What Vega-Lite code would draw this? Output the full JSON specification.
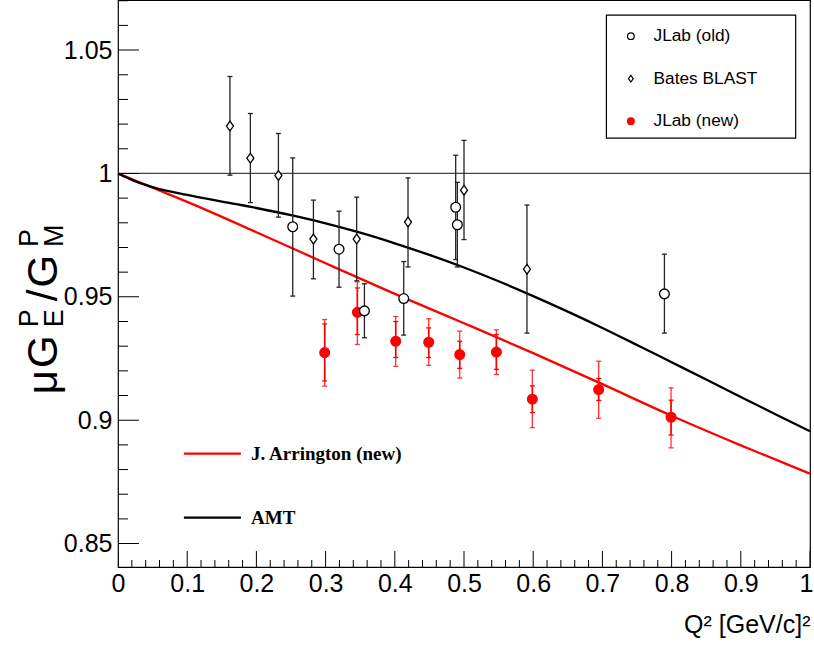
{
  "$schema": "https://vega.github.io/schema/vega-lite/v6.json",
  "width": 692,
  "height": 567,
  "autosize": "none",
  "padding": {"left": 118, "top": 0, "right": 4, "bottom": 78},
  "background": "white",
  "config": {"view": {"stroke": "black", "strokeWidth": 1.2}, "font": "Liberation Sans"},
  "datasets": {
    "curves": [
      {"model": "J. Arrington (new)", "q2": 0, "r": 1},
      {"model": "J. Arrington (new)", "q2": 0.05, "r": 0.9942},
      {"model": "J. Arrington (new)", "q2": 0.1, "r": 0.9885},
      {"model": "J. Arrington (new)", "q2": 0.2, "r": 0.9762},
      {"model": "J. Arrington (new)", "q2": 0.3, "r": 0.9636},
      {"model": "J. Arrington (new)", "q2": 0.4, "r": 0.9512},
      {"model": "J. Arrington (new)", "q2": 0.5, "r": 0.9393},
      {"model": "J. Arrington (new)", "q2": 0.6, "r": 0.9272},
      {"model": "J. Arrington (new)", "q2": 0.7, "r": 0.9146},
      {"model": "J. Arrington (new)", "q2": 0.8, "r": 0.9018},
      {"model": "J. Arrington (new)", "q2": 0.9, "r": 0.8898},
      {"model": "J. Arrington (new)", "q2": 1.0, "r": 0.8783},
      {"model": "AMT", "q2": 0, "r": 1},
      {"model": "AMT", "q2": 0.02, "r": 0.9974},
      {"model": "AMT", "q2": 0.05, "r": 0.9945},
      {"model": "AMT", "q2": 0.1, "r": 0.9913},
      {"model": "AMT", "q2": 0.15, "r": 0.9886},
      {"model": "AMT", "q2": 0.2, "r": 0.986},
      {"model": "AMT", "q2": 0.25, "r": 0.9831},
      {"model": "AMT", "q2": 0.3, "r": 0.9798},
      {"model": "AMT", "q2": 0.35, "r": 0.976},
      {"model": "AMT", "q2": 0.4, "r": 0.9717},
      {"model": "AMT", "q2": 0.45, "r": 0.967},
      {"model": "AMT", "q2": 0.5, "r": 0.9619},
      {"model": "AMT", "q2": 0.55, "r": 0.9563},
      {"model": "AMT", "q2": 0.6, "r": 0.9503},
      {"model": "AMT", "q2": 0.65, "r": 0.944},
      {"model": "AMT", "q2": 0.7, "r": 0.9374},
      {"model": "AMT", "q2": 0.75, "r": 0.9305},
      {"model": "AMT", "q2": 0.8, "r": 0.9235},
      {"model": "AMT", "q2": 0.85, "r": 0.9165},
      {"model": "AMT", "q2": 0.9, "r": 0.9094},
      {"model": "AMT", "q2": 0.95, "r": 0.9024},
      {"model": "AMT", "q2": 1.0, "r": 0.8955}
    ],
    "pts": [
      {"series": "JLab (new)", "q2": 0.2987, "r": 0.9274, "lo": 0.9138, "hi": 0.9408, "slo": 0.9159, "shi": 0.939},
      {"series": "JLab (new)", "q2": 0.3459, "r": 0.9437, "lo": 0.9307, "hi": 0.9561, "slo": 0.9347, "shi": 0.9536},
      {"series": "JLab (new)", "q2": 0.4013, "r": 0.932, "lo": 0.9218, "hi": 0.942, "slo": 0.9254, "shi": 0.94},
      {"series": "JLab (new)", "q2": 0.449, "r": 0.9316, "lo": 0.9222, "hi": 0.9411, "slo": 0.9254, "shi": 0.9374},
      {"series": "JLab (new)", "q2": 0.4938, "r": 0.9266, "lo": 0.9171, "hi": 0.9361, "slo": 0.921, "shi": 0.932},
      {"series": "JLab (new)", "q2": 0.5468, "r": 0.9276, "lo": 0.9185, "hi": 0.9366, "slo": 0.9206, "shi": 0.9347},
      {"series": "JLab (new)", "q2": 0.5988, "r": 0.9085, "lo": 0.897, "hi": 0.9203, "slo": 0.9031, "shi": 0.9139},
      {"series": "JLab (new)", "q2": 0.6946, "r": 0.9124, "lo": 0.9008, "hi": 0.9239, "slo": 0.908, "shi": 0.9169},
      {"series": "JLab (new)", "q2": 0.7992, "r": 0.9012, "lo": 0.8888, "hi": 0.9131, "slo": 0.894, "shi": 0.9081},
      {"series": "Bates BLAST", "q2": 0.1618, "r": 1.0192, "lo": 0.9993, "hi": 1.0393},
      {"series": "Bates BLAST", "q2": 0.1913, "r": 1.0062, "lo": 0.9882, "hi": 1.0243},
      {"series": "Bates BLAST", "q2": 0.2318, "r": 0.9992, "lo": 0.9823, "hi": 1.0162},
      {"series": "Bates BLAST", "q2": 0.2824, "r": 0.9734, "lo": 0.9573, "hi": 0.9892},
      {"series": "Bates BLAST", "q2": 0.3449, "r": 0.9734, "lo": 0.9565, "hi": 0.9904},
      {"series": "Bates BLAST", "q2": 0.4191, "r": 0.9803, "lo": 0.9621, "hi": 0.9982},
      {"series": "Bates BLAST", "q2": 0.5, "r": 0.9932, "lo": 0.9732, "hi": 1.0134},
      {"series": "Bates BLAST", "q2": 0.591, "r": 0.9612, "lo": 0.9353, "hi": 0.9872},
      {"series": "JLab (old)", "q2": 0.2525, "r": 0.9784, "lo": 0.9503, "hi": 1.0063},
      {"series": "JLab (old)", "q2": 0.3194, "r": 0.9693, "lo": 0.9539, "hi": 0.9847},
      {"series": "JLab (old)", "q2": 0.3561, "r": 0.9443, "lo": 0.9334, "hi": 0.9553},
      {"series": "JLab (old)", "q2": 0.4129, "r": 0.9493, "lo": 0.9345, "hi": 0.9643},
      {"series": "JLab (old)", "q2": 0.488, "r": 0.9863, "lo": 0.9651, "hi": 1.0074},
      {"series": "JLab (old)", "q2": 0.4904, "r": 0.9792, "lo": 0.9621, "hi": 0.9964},
      {"series": "JLab (old)", "q2": 0.7896, "r": 0.9512, "lo": 0.9353, "hi": 0.9673}
    ],
    "xticks": [
      {"v": 0, "major": true}, {"v": 0.02, "major": false}, {"v": 0.04, "major": false}, {"v": 0.06, "major": false}, {"v": 0.08, "major": false},
      {"v": 0.1, "major": true}, {"v": 0.12, "major": false}, {"v": 0.14, "major": false}, {"v": 0.16, "major": false}, {"v": 0.18, "major": false},
      {"v": 0.2, "major": true}, {"v": 0.22, "major": false}, {"v": 0.24, "major": false}, {"v": 0.26, "major": false}, {"v": 0.28, "major": false},
      {"v": 0.3, "major": true}, {"v": 0.32, "major": false}, {"v": 0.34, "major": false}, {"v": 0.36, "major": false}, {"v": 0.38, "major": false},
      {"v": 0.4, "major": true}, {"v": 0.42, "major": false}, {"v": 0.44, "major": false}, {"v": 0.46, "major": false}, {"v": 0.48, "major": false},
      {"v": 0.5, "major": true}, {"v": 0.52, "major": false}, {"v": 0.54, "major": false}, {"v": 0.56, "major": false}, {"v": 0.58, "major": false},
      {"v": 0.6, "major": true}, {"v": 0.62, "major": false}, {"v": 0.64, "major": false}, {"v": 0.66, "major": false}, {"v": 0.68, "major": false},
      {"v": 0.7, "major": true}, {"v": 0.72, "major": false}, {"v": 0.74, "major": false}, {"v": 0.76, "major": false}, {"v": 0.78, "major": false},
      {"v": 0.8, "major": true}, {"v": 0.82, "major": false}, {"v": 0.84, "major": false}, {"v": 0.86, "major": false}, {"v": 0.88, "major": false},
      {"v": 0.9, "major": true}, {"v": 0.92, "major": false}, {"v": 0.94, "major": false}, {"v": 0.96, "major": false}, {"v": 0.98, "major": false},
      {"v": 1.0, "major": true}
    ],
    "yticks": [
      {"v": 0.85, "major": true}, {"v": 0.86, "major": false}, {"v": 0.87, "major": false}, {"v": 0.88, "major": false}, {"v": 0.89, "major": false},
      {"v": 0.9, "major": true}, {"v": 0.91, "major": false}, {"v": 0.92, "major": false}, {"v": 0.93, "major": false}, {"v": 0.94, "major": false},
      {"v": 0.95, "major": true}, {"v": 0.96, "major": false}, {"v": 0.97, "major": false}, {"v": 0.98, "major": false}, {"v": 0.99, "major": false},
      {"v": 1.0, "major": true}, {"v": 1.01, "major": false}, {"v": 1.02, "major": false}, {"v": 1.03, "major": false}, {"v": 1.04, "major": false},
      {"v": 1.05, "major": true}, {"v": 1.06, "major": false}, {"v": 1.07, "major": false}
    ]
  },
  "layer": [
    {
      "data": {"name": "curves"},
      "mark": {"type": "line", "strokeWidth": 2.3, "interpolate": "monotone"},
      "encoding": {
        "x": {"field": "q2", "type": "quantitative",
          "scale": {"domain": [0, 1], "nice": false, "zero": false},
          "axis": {"values": [0, 0.1, 0.2, 0.3, 0.4, 0.5, 0.6, 0.7, 0.8, 0.9, 1], "format": "~g", "ticks": false, "domain": false, "grid": false,
            "labelFont": "Liberation Sans", "labelFontSize": 25, "labelColor": "black", "labelPadding": 4, "labelFlush": false, "labelOverlap": false,
            "labelAlign": {"condition": {"test": "datum.value === 1", "value": "right"}, "value": "center"},
            "labelOffset": {"condition": {"test": "datum.value === 1", "value": 3}, "value": 0},
            "title": "Q² [GeV/c]²", "titleFont": "Liberation Sans", "titleFontSize": 25, "titleFontWeight": "normal", "titleColor": "black",
            "titleAnchor": "end", "titlePadding": 16}},
        "y": {"field": "r", "type": "quantitative",
          "scale": {"domain": [0.8405, 1.0703], "nice": false, "zero": false},
          "axis": {"values": [0.85, 0.9, 0.95, 1, 1.05], "format": "~g", "ticks": false, "domain": false, "grid": false,
            "labelFont": "Liberation Sans", "labelFontSize": 25, "labelColor": "black", "labelPadding": 6, "labelFlush": false, "labelOverlap": false,
            "title": null}},
        "color": {"field": "model", "type": "nominal",
          "scale": {"domain": ["J. Arrington (new)", "AMT"], "range": ["#ff0000", "#000000"]},
          "legend": {"orient": "none", "legendX": 64.4, "legendY": 423.7, "title": null,
            "labelFont": "Liberation Serif", "labelFontWeight": "bold", "labelFontSize": 19, "labelColor": "black",
            "symbolType": "stroke", "symbolSize": 3249, "symbolStrokeWidth": 2.3, "rowPadding": 24, "labelOffset": 8.7, "padding": 0}}
      }
    },
    {
      "data": {"values": [{}]},
      "mark": {"type": "rect", "fill": "white", "stroke": "black", "strokeWidth": 1.2},
      "encoding": {
        "x": {"datum": 0.7058, "type": "quantitative"}, "x2": {"datum": 0.9793},
        "y": {"datum": 1.0642, "type": "quantitative"}, "y2": {"datum": 1.0143}
      }
    },
    {
      "data": {"values": [{}]},
      "mark": {"type": "rule", "color": "#444444", "strokeWidth": 1.2},
      "encoding": {"y": {"datum": 1, "type": "quantitative"}}
    },
    {
      "data": {"name": "xticks"},
      "mark": {"type": "tick", "orient": "vertical", "thickness": 1, "color": "black", "clip": true, "opacity": 1},
      "encoding": {
        "x": {"field": "v", "type": "quantitative"},
        "y": {"datum": 0.8405, "type": "quantitative"},
        "size": {"condition": {"test": "datum.major", "value": 32}, "value": 14}
      }
    },
    {
      "data": {"name": "yticks"},
      "mark": {"type": "tick", "orient": "horizontal", "thickness": 1, "color": "black", "clip": true, "opacity": 1},
      "encoding": {
        "y": {"field": "v", "type": "quantitative"},
        "x": {"datum": 0, "type": "quantitative"},
        "size": {"condition": {"test": "datum.major", "value": 42}, "value": 20}
      }
    },
    {
      "data": {"name": "pts"},
      "mark": {"type": "rule", "strokeWidth": 1.3},
      "encoding": {
        "x": {"field": "q2", "type": "quantitative"},
        "y": {"field": "lo", "type": "quantitative"}, "y2": {"field": "hi"},
        "color": {"condition": {"test": "datum.series === 'JLab (new)'", "value": "#ff3333"}, "value": "#222222"}
      }
    },
    {
      "data": {"name": "pts"},
      "mark": {"type": "tick", "orient": "horizontal", "thickness": 1.3, "size": 5, "opacity": 1},
      "encoding": {
        "x": {"field": "q2", "type": "quantitative"},
        "y": {"field": "hi", "type": "quantitative"},
        "color": {"condition": {"test": "datum.series === 'JLab (new)'", "value": "#ff3333"}, "value": "#222222"}
      }
    },
    {
      "data": {"name": "pts"},
      "mark": {"type": "tick", "orient": "horizontal", "thickness": 1.3, "size": 5, "opacity": 1},
      "encoding": {
        "x": {"field": "q2", "type": "quantitative"},
        "y": {"field": "lo", "type": "quantitative"},
        "color": {"condition": {"test": "datum.series === 'JLab (new)'", "value": "#ff3333"}, "value": "#222222"}
      }
    },
    {
      "data": {"name": "pts"},
      "transform": [{"filter": "datum.slo != null"}],
      "mark": {"type": "rule", "strokeWidth": 1.6, "color": "#ff0000"},
      "encoding": {
        "x": {"field": "q2", "type": "quantitative"},
        "y": {"field": "slo", "type": "quantitative"}, "y2": {"field": "shi"}
      }
    },
    {
      "data": {"name": "pts"},
      "transform": [{"filter": "datum.slo != null"}],
      "mark": {"type": "tick", "orient": "horizontal", "thickness": 1.3, "size": 5, "color": "#ff0000", "opacity": 1},
      "encoding": {
        "x": {"field": "q2", "type": "quantitative"},
        "y": {"field": "shi", "type": "quantitative"}
      }
    },
    {
      "data": {"name": "pts"},
      "transform": [{"filter": "datum.slo != null"}],
      "mark": {"type": "tick", "orient": "horizontal", "thickness": 1.3, "size": 5, "color": "#ff0000", "opacity": 1},
      "encoding": {
        "x": {"field": "q2", "type": "quantitative"},
        "y": {"field": "slo", "type": "quantitative"}
      }
    },
    {
      "data": {"name": "pts"},
      "mark": {"type": "point", "size": 95, "strokeWidth": 1.3, "opacity": 1},
      "encoding": {
        "x": {"field": "q2", "type": "quantitative"},
        "y": {"field": "r", "type": "quantitative"},
        "shape": {"field": "series", "type": "nominal",
          "scale": {"domain": ["JLab (old)", "Bates BLAST", "JLab (new)"], "range": ["circle", "M0,-1L0.72,0L0,1L-0.72,0Z", "circle"]},
          "legend": {"orient": "none", "legendX": 504.2, "legendY": 27.5, "title": null, "labelFont": "Liberation Sans", "labelFontSize": 17.3, "labelColor": "black",
            "symbolSize": 45, "symbolStrokeWidth": 1.2, "rowPadding": 24.5, "labelOffset": 14, "padding": 0}},
        "fill": {"field": "series", "type": "nominal",
          "scale": {"domain": ["JLab (old)", "Bates BLAST", "JLab (new)"], "range": ["#ffffff", "#ffffff", "#ff0000"]},
          "legend": {"orient": "none", "legendX": 504.2, "legendY": 27.5, "title": null, "labelFont": "Liberation Sans", "labelFontSize": 17.3, "labelColor": "black",
            "symbolSize": 45, "symbolStrokeWidth": 1.2, "rowPadding": 24.5, "labelOffset": 14, "padding": 0}},
        "stroke": {"field": "series", "type": "nominal",
          "scale": {"domain": ["JLab (old)", "Bates BLAST", "JLab (new)"], "range": ["#000000", "#000000", "#ff0000"]},
          "legend": {"orient": "none", "legendX": 504.2, "legendY": 27.5, "title": null, "labelFont": "Liberation Sans", "labelFontSize": 17.3, "labelColor": "black",
            "symbolSize": 45, "symbolStrokeWidth": 1.2, "rowPadding": 24.5, "labelOffset": 14, "padding": 0}}
      }
    },
    {
      "data": {"values": [{}]},
      "mark": {"type": "text", "text": "μ", "angle": 270, "align": "left", "baseline": "alphabetic", "font": "Liberation Sans", "fontSize": 42, "color": "black"},
      "encoding": {"x": {"datum": -0.0886, "type": "quantitative"}, "y": {"datum": 0.9105, "type": "quantitative"}}
    },
    {
      "data": {"values": [{}]},
      "mark": {"type": "text", "text": "G", "angle": 270, "align": "left", "baseline": "alphabetic", "font": "Liberation Sans", "fontSize": 42, "color": "black"},
      "encoding": {"x": {"datum": -0.0886, "type": "quantitative"}, "y": {"datum": 0.9212, "type": "quantitative"}}
    },
    {
      "data": {"values": [{}]},
      "mark": {"type": "text", "text": "P", "angle": 270, "align": "left", "baseline": "alphabetic", "font": "Liberation Sans", "fontSize": 27, "color": "black"},
      "encoding": {"x": {"datum": -0.116, "type": "quantitative"}, "y": {"datum": 0.9377, "type": "quantitative"}}
    },
    {
      "data": {"values": [{}]},
      "mark": {"type": "text", "text": "E", "angle": 270, "align": "left", "baseline": "alphabetic", "font": "Liberation Sans", "fontSize": 27, "color": "black"},
      "encoding": {"x": {"datum": -0.0799, "type": "quantitative"}, "y": {"datum": 0.9377, "type": "quantitative"}}
    },
    {
      "data": {"values": [{}]},
      "mark": {"type": "text", "text": "/", "angle": 270, "align": "left", "baseline": "alphabetic", "font": "Liberation Sans", "fontSize": 42, "color": "black"},
      "encoding": {"x": {"datum": -0.0886, "type": "quantitative"}, "y": {"datum": 0.9482, "type": "quantitative"}}
    },
    {
      "data": {"values": [{}]},
      "mark": {"type": "text", "text": "G", "angle": 270, "align": "left", "baseline": "alphabetic", "font": "Liberation Sans", "fontSize": 42, "color": "black"},
      "encoding": {"x": {"datum": -0.0886, "type": "quantitative"}, "y": {"datum": 0.9538, "type": "quantitative"}}
    },
    {
      "data": {"values": [{}]},
      "mark": {"type": "text", "text": "P", "angle": 270, "align": "left", "baseline": "alphabetic", "font": "Liberation Sans", "fontSize": 27, "color": "black"},
      "encoding": {"x": {"datum": -0.116, "type": "quantitative"}, "y": {"datum": 0.9702, "type": "quantitative"}}
    },
    {
      "data": {"values": [{}]},
      "mark": {"type": "text", "text": "M", "angle": 270, "align": "left", "baseline": "alphabetic", "font": "Liberation Sans", "fontSize": 27, "color": "black"},
      "encoding": {"x": {"datum": -0.0799, "type": "quantitative"}, "y": {"datum": 0.9702, "type": "quantitative"}}
    }
  ]
}
